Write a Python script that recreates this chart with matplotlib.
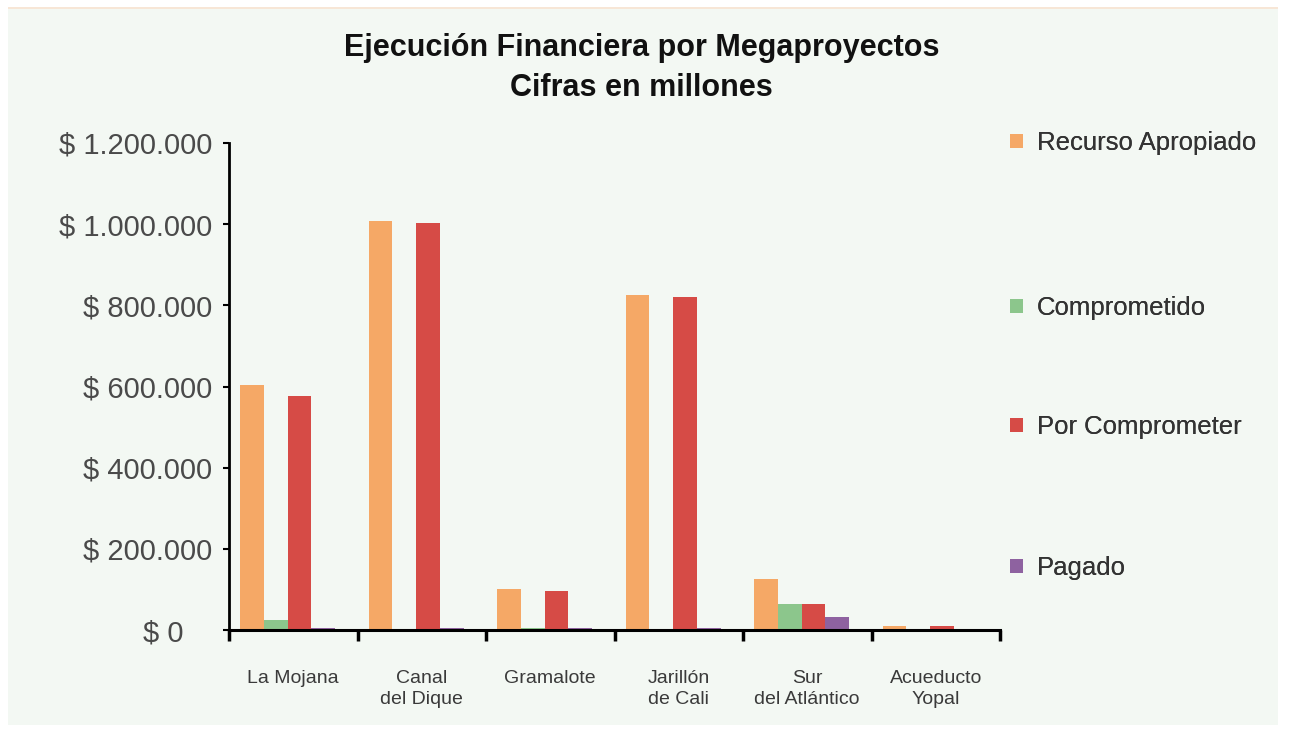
import numpy as np
import matplotlib
matplotlib.use('Agg')
import matplotlib.pyplot as plt
from matplotlib.patches import Rectangle, Patch
from matplotlib.ticker import FixedLocator, FuncFormatter
from matplotlib.transforms import ScaledTranslation

# --- Data (millones) ---
categories = ["La Mojana", "Canal\ndel Dique", "Gramalote", "Jarillón\nde Cali",
              "Sur\ndel Atlántico", "Acueducto\nYopal"]
recurso_apropiado = [603000, 1008000, 101000, 825000, 126000, 10000]
comprometido = [25000, 3000, 5000, 3000, 64000, 0]
por_comprometer = [576000, 1003000, 96000, 820000, 64000, 10000]
pagado = [4000, 4000, 4000, 4000, 32000, 0]

series_names = ["Recurso Apropiado", "Comprometido", "Por Comprometer", "Pagado"]
colors = ["#F5A866", "#8CC68C", "#D64B46", "#8E62A0"]
yticks = [0, 200000, 400000, 600000, 800000, 1000000, 1200000]

plt.rcParams['font.family'] = ['Liberation Sans', 'DejaVu Sans']

fig = plt.figure(figsize=(13.01, 7.29), dpi=100, facecolor='white')
fig.patches.append(Rectangle((8 / 1301, 4 / 729), 1270 / 1301, 717 / 729,
                             transform=fig.transFigure, facecolor='#F3F8F3',
                             edgecolor='none', zorder=-5))
fig.patches.append(Rectangle((8 / 1301, 720 / 729), 1270 / 1301, 1.5 / 729,
                             transform=fig.transFigure, facecolor='#F7E6D6',
                             edgecolor='none', zorder=-5))

ax = fig.add_axes([229 / 1301, 99 / 729, 771 / 1301, 487 / 729])
ax.set_facecolor('none')

x = np.arange(len(categories))
width = 0.185
offsets = [-1.6, -0.6, 0.4, 1.4]
all_series = [recurso_apropiado, comprometido, por_comprometer, pagado]
for vals, off, col, name in zip(all_series, offsets, colors, series_names):
    ax.bar(x + off * width - 0.025, vals, width, color=col, label=name, zorder=2)

ax.set_xlim(-0.5, len(categories) - 0.5)
ax.set_ylim(0, 1200000)

# ticks at group boundaries, labels at centres
ax.xaxis.set_major_locator(FixedLocator(np.arange(len(categories) + 1) - 0.5))
ax.xaxis.set_major_formatter(FuncFormatter(lambda v, p: ""))
ax.xaxis.set_minor_locator(FixedLocator(x))
ax.set_xticklabels(categories, minor=True, fontsize=14, color='#3a3a3a',
                   linespacing=1.25)
ax.tick_params(axis='x', which='minor', length=0, pad=29)
ax.tick_params(axis='x', which='major', length=8, width=2.5, color='black')

ax.set_yticks(yticks)
ax.yaxis.set_major_formatter(FuncFormatter(
    lambda v, p: "$ " + f"{int(v):,}".replace(",", ".")))
ax.tick_params(axis='y', length=4, width=1.5, labelsize=21, labelcolor='#4a4a4a',
               pad=8)
# "$ 0" sits further left in the original
zero_lab = ax.yaxis.get_major_ticks()[0].label1
zero_lab.set_transform(zero_lab.get_transform()
                       + ScaledTranslation(-29 / 100, 0, fig.dpi_scale_trans))

for s in ['top', 'right']:
    ax.spines[s].set_visible(False)
ax.spines['left'].set_linewidth(2)
ax.spines['bottom'].set_linewidth(2.2)

# title
title_font = ['Liberation Sans Narrow', 'Liberation Sans', 'DejaVu Sans']
fig.text(0.493, 0.955, "Ejecución Financiera por Megaproyectos",
         ha='center', va='top', fontsize=22, fontweight='bold',
         family=title_font, color='#111111')
fig.text(0.493, 0.9, "Cifras en millones",
         ha='center', va='top', fontsize=22, fontweight='bold',
         family=title_font, color='#111111')

# legend entries, placed individually
legend_y = [143, 308, 427, 568]
for name, col, ly in zip(series_names, colors, legend_y):
    leg = fig.legend(handles=[Patch(facecolor=col, label=name)],
                     loc='center left', bbox_to_anchor=(987 / 1301, 1 - ly / 729),
                     frameon=False, fontsize=18.5, handlelength=0.5,
                     handleheight=0.5, handletextpad=0.55, labelcolor='#333333')
    fig.add_artist(leg)

fig.savefig("out.png", dpi=100, facecolor=fig.get_facecolor())
